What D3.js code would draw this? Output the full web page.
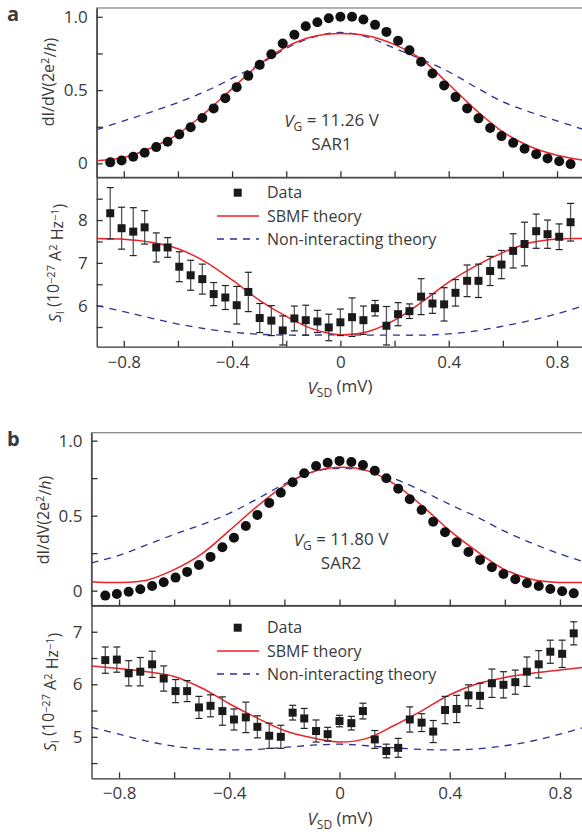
<!DOCTYPE html>
<html>
<head>
<meta charset="utf-8">
<script src="https://cdn.jsdelivr.net/npm/d3@7"></script>
<style>
	body { margin: 0; background: #fff; }
	#container { width: 582px; height: 835px; overflow: hidden; }
	text { font-family: "Open Sans", "Noto Sans", sans-serif; fill: #3a3a3a; }
</style>
</head>
<body>
<div id="container"></div>
<script>
// measured V_SD points (mV)
var vsd = [-0.85, -0.808, -0.765, -0.723, -0.68, -0.638, -0.595, -0.553, -0.51, -0.468, -0.425,
	-0.383, -0.34, -0.298, -0.255, -0.213, -0.17, -0.128, -0.085, -0.043, 0,
	0.043, 0.085, 0.128, 0.17, 0.213, 0.255, 0.298, 0.34, 0.383, 0.425,
	0.468, 0.51, 0.553, 0.595, 0.638, 0.68, 0.723, 0.765, 0.808, 0.85];

// theory curves sampled at these V_SD
var vth = [-0.9, -0.8, -0.7, -0.6, -0.5, -0.4, -0.3, -0.2, -0.1, 0, 0.1, 0.2, 0.3, 0.4, 0.5, 0.6, 0.7, 0.8, 0.9];

// SAR1
var condA = [0.007, 0.02, 0.045, 0.072, 0.111, 0.147, 0.198, 0.247, 0.309, 0.375, 0.445, 0.52, 0.597, 0.672, 0.745, 0.818, 0.877,
	0.936, 0.963, 0.99, 1.0,
	1.0, 0.982, 0.945, 0.897, 0.836, 0.772, 0.693, 0.613, 0.532, 0.452, 0.375, 0.307, 0.241, 0.186, 0.14, 0.1, 0.063, 0.034, 0.014, -0.005];
var condA_sbmf = [0.018, 0.04, 0.105, 0.2, 0.345, 0.51, 0.675, 0.795, 0.865, 0.886, 0.87, 0.81, 0.71, 0.54, 0.365, 0.215, 0.115, 0.055, 0.02];
var condA_free = [0.23, 0.29, 0.35, 0.415, 0.49, 0.58, 0.675, 0.785, 0.862, 0.893, 0.862, 0.785, 0.71, 0.625, 0.52, 0.42, 0.35, 0.29, 0.23];
var noiseA = [8.16, 7.81, 7.73, 7.83, 7.36, 7.36, 6.91, 6.71, 6.62, 6.27, 6.19, 6.01, 6.32, 5.71, 5.65, 5.42, 5.70,
	5.66, 5.63, 5.49, 5.61,
	5.73, 5.66, 5.94, 5.53, 5.80, 5.87, 6.21, 6.05, 6.03, 6.30, 6.58, 6.58, 6.81, 6.96, 7.28, 7.44, 7.74, 7.67, 7.61, 7.95];
var errA = [0.6, 0.49, 0.56, 0.39, 0.34, 0.23, 0.35, 0.35, 0.35, 0.27, 0.28, 0.44, 0.46, 0.34, 0.35, 0.34, 0.29,
	0.35, 0.26, 0.31, 0.31,
	0.45, 0.33, 0.18, 0.45, 0.27, 0.17, 0.42, 0.23, 0.39, 0.31, 0.37, 0.39, 0.34, 0.33, 0.4, 0.51, 0.4, 0.33, 0.3, 0.44];
var noiseA_sbmf = [7.57, 7.55, 7.48, 7.33, 7.03, 6.6, 6.13, 5.75, 5.45, 5.32, 5.39, 5.66, 6.08, 6.55, 6.93, 7.24, 7.47, 7.56, 7.57];
var noiseA_free = [6.0, 5.86, 5.71, 5.57, 5.46, 5.38, 5.33, 5.31, 5.31, 5.32, 5.31, 5.31, 5.31, 5.34, 5.41, 5.52, 5.65, 5.81, 6.0];

// SAR2
var condB = [-0.033, -0.022, -0.007, 0.009, 0.031, 0.056, 0.087, 0.125, 0.171, 0.225, 0.289, 0.353, 0.431, 0.505, 0.585, 0.653, 0.723,
	0.783, 0.831, 0.853, 0.865,
	0.858, 0.838, 0.8, 0.749, 0.68, 0.609, 0.538, 0.46, 0.389, 0.322, 0.258, 0.205, 0.156, 0.111, 0.076, 0.049, 0.031, 0.011, -0.004, -0.018];
var condB_sbmf = [0.06, 0.054, 0.07, 0.14, 0.245, 0.4, 0.56, 0.7, 0.79, 0.822, 0.8, 0.71, 0.565, 0.4, 0.26, 0.14, 0.075, 0.055, 0.056];
var condB_free = [0.185, 0.235, 0.305, 0.375, 0.44, 0.515, 0.61, 0.71, 0.79, 0.816, 0.8, 0.745, 0.665, 0.575, 0.49, 0.395, 0.315, 0.245, 0.185];
var noiseB = [6.46, 6.47, 6.21, 6.24, 6.38, 6.11, 5.87, 5.87, 5.56, 5.59, 5.49, 5.33, 5.37, 5.19, 5.02, 5.0, 5.46,
	5.35, 5.11, 5.05, 5.30,
	5.26, 5.49, 4.95, 4.73, 4.79, 5.33, 5.27, 5.1, 5.51, 5.53, 5.79, 5.78, 6.02, 5.99, 6.04, 6.24, 6.38, 6.62, 6.58, 6.97];
var errB = [0.25, 0.24, 0.24, 0.27, 0.25, 0.24, 0.22, 0.2, 0.21, 0.21, 0.27, 0.2, 0.29, 0.21, 0.24, 0.22, 0.14,
	0.19, 0.21, 0.13, 0.11,
	0.13, 0.15, 0.17, 0.13, 0.18, 0.24, 0.17, 0.21, 0.26, 0.26, 0.2, 0.24, 0.27, 0.25, 0.23, 0.28, 0.26, 0.22, 0.26, 0.22];
var noiseB_sbmf = [6.35, 6.3, 6.24, 6.15, 5.93, 5.63, 5.36, 5.12, 4.98, 4.9, 4.97, 5.22, 5.5, 5.8, 6.01, 6.13, 6.21, 6.27, 6.33];
var noiseB_free = [5.18, 5.05, 4.92, 4.82, 4.77, 4.75, 4.76, 4.8, 4.84, 4.86, 4.83, 4.79, 4.76, 4.75, 4.77, 4.83, 4.92, 5.05, 5.2];

var xTicks = [-0.8, -0.6, -0.4, -0.2, 0, 0.2, 0.4, 0.6, 0.8];
var xLabels = [-0.8, -0.4, 0, 0.4, 0.8];
var legendNames = ['Data', 'SBMF theory', 'Non-interacting theory'];

var red = '#ec2227', blue = '#2e3192', ink = '#333';

var width = 582, height = 835;

var svg = d3.select('#container').append('svg')
	.attr('width', width)
	.attr('height', height);

var fmt = d3.format('.1f');

draw({
	label: 'a', top: 8, mid: 177.3, bottom: 346.7, left: 96.7, right: 584.1,
	condDomain: [-0.095, 1.06], noiseDomain: [5.04, 9.0],
	noiseTicks: [5.5, 6, 6.5, 7, 7.5, 8, 8.5], noiseLabels: [6, 7, 8],
	cond: condA, condS: condA_sbmf, condF: condA_free,
	noise: noiseA, err: errA, noiseS: noiseA_sbmf, noiseF: noiseA_free,
	vg: '11.26', sar: 'SAR1', annX: 331.5, annY: 121,
	legY: 192.7, condTitleY: 82, noiseTitleY: 263, condTitleX: 48, noiseTitleX: 55
});

draw({
	label: 'b', top: 432.7, mid: 605.5, bottom: 778.3, left: 91.5, right: 587.5,
	condDomain: [-0.099, 1.053], noiseDomain: [4.21, 7.5],
	noiseTicks: [4.5, 5, 5.5, 6, 6.5, 7], noiseLabels: [5, 6, 7],
	cond: condB, condS: condB_sbmf, condF: condB_free,
	noise: noiseB, err: errB, noiseS: noiseB_sbmf, noiseF: noiseB_free,
	vg: '11.80', sar: 'SAR2', annX: 341, annY: 540,
	legY: 627.7, condTitleY: 520, noiseTitleY: 692, condTitleX: 43, noiseTitleX: 50
});

function draw(p) {

	var x = d3.scaleLinear().domain([-0.9, 0.9]).range([p.left, p.right]);
	var y1 = d3.scaleLinear().domain(p.condDomain).range([p.mid, p.top]);
	var y2 = d3.scaleLinear().domain(p.noiseDomain).range([p.bottom, p.mid]);

	var g = svg.append('g');

	// frame of the upper panel
	g.append('rect')
		.attr('x', p.left).attr('y', p.top)
		.attr('width', p.right - p.left).attr('height', p.mid - p.top)
		.attr('fill', 'none').attr('stroke', '#8a8a8a').attr('stroke-width', 1.3);

	// upper panel axes
	var xAxisTop = d3.axisBottom(x).tickValues(xTicks).tickSizeInner(-6).tickSizeOuter(0).tickFormat('');
	g.append('g').attr('class', 'axis')
		.attr('transform', 'translate(0,' + p.mid + ')')
		.call(xAxisTop);

	var yAxis1 = d3.axisLeft(y1).tickValues([0, 0.25, 0.5, 0.75, 1]).tickSizeInner(-6).tickSizeOuter(0).tickPadding(9)
		.tickFormat(function(d) { return d === 0 ? '0' : (d === 0.5 || d === 1) ? fmt(d) : ''; });
	g.append('g').attr('class', 'axis')
		.attr('transform', 'translate(' + p.left + ',0)')
		.call(yAxis1);

	// lower panel axes
	var xAxisBot = d3.axisBottom(x).tickValues(xTicks).tickSizeInner(-6).tickSizeOuter(0).tickPadding(9)
		.tickFormat(function(d) {
			if (xLabels.indexOf(d) < 0) return '';
			return d === 0 ? '0' : fmt(d);
		});
	g.append('g').attr('class', 'axis')
		.attr('transform', 'translate(0,' + p.bottom + ')')
		.call(xAxisBot);

	var yAxis2 = d3.axisLeft(y2).tickValues(p.noiseTicks).tickSizeInner(-6).tickSizeOuter(0).tickPadding(9)
		.tickFormat(function(d) { return p.noiseLabels.indexOf(d) < 0 ? '' : d; });
	g.append('g').attr('class', 'axis')
		.attr('transform', 'translate(' + p.left + ',0)')
		.call(yAxis2);

	g.selectAll('.axis path, .axis line').attr('stroke', ink).attr('stroke-width', 1.3);
	g.selectAll('.axis text').style('font-size', '17px').attr('fill', '#3a3a3a')
		.style('font-family', '"Open Sans", "Noto Sans", sans-serif');

	// theory curves
	var th = vth.map(function(v, i) { return i; });
	var line1 = d3.line().curve(d3.curveCatmullRom)
		.x(function(i) { return x(vth[i]); });

	g.append('path').datum(th)
		.attr('d', line1.y(function(i) { return y1(p.condF[i]); }))
		.attr('fill', 'none').attr('stroke', blue).attr('stroke-width', 1.3).attr('stroke-dasharray', '7,6');
	g.append('path').datum(th)
		.attr('d', line1.y(function(i) { return y1(p.condS[i]); }))
		.attr('fill', 'none').attr('stroke', red).attr('stroke-width', 1.5);

	g.append('path').datum(th)
		.attr('d', line1.y(function(i) { return y2(p.noiseF[i]); }))
		.attr('fill', 'none').attr('stroke', blue).attr('stroke-width', 1.3).attr('stroke-dasharray', '7,6');
	g.append('path').datum(th)
		.attr('d', line1.y(function(i) { return y2(p.noiseS[i]); }))
		.attr('fill', 'none').attr('stroke', red).attr('stroke-width', 1.5);

	// conductance dots
	g.selectAll('.dot').data(p.cond).enter().append('circle')
		.attr('cx', function(d, i) { return x(vsd[i]); })
		.attr('cy', function(d) { return y1(d); })
		.attr('r', 5)
		.style('fill', '#111');

	// noise error bars and squares
	var eb = g.selectAll('.eb').data(p.noise).enter().append('g');
	eb.append('line')
		.attr('x1', function(d, i) { return x(vsd[i]); })
		.attr('x2', function(d, i) { return x(vsd[i]); })
		.attr('y1', function(d, i) { return y2(d - p.err[i]); })
		.attr('y2', function(d, i) { return y2(d + p.err[i]); })
		.attr('stroke', '#555').attr('stroke-width', 1.3);
	eb.append('line')
		.attr('x1', function(d, i) { return x(vsd[i]) - 3.5; })
		.attr('x2', function(d, i) { return x(vsd[i]) + 3.5; })
		.attr('y1', function(d, i) { return y2(d + p.err[i]); })
		.attr('y2', function(d, i) { return y2(d + p.err[i]); })
		.attr('stroke', '#222').attr('stroke-width', 1.2);
	eb.append('line')
		.attr('x1', function(d, i) { return x(vsd[i]) - 3.5; })
		.attr('x2', function(d, i) { return x(vsd[i]) + 3.5; })
		.attr('y1', function(d, i) { return y2(d - p.err[i]); })
		.attr('y2', function(d, i) { return y2(d - p.err[i]); })
		.attr('stroke', '#222').attr('stroke-width', 1.2);
	eb.append('rect')
		.attr('x', function(d, i) { return x(vsd[i]) - 4; })
		.attr('y', function(d) { return y2(d) - 4; })
		.attr('width', 8).attr('height', 8)
		.style('fill', '#1a1a1a');

	// legend
	var lg = g.append('g');
	lg.append('rect').attr('x', 233.7).attr('y', p.legY - 4).attr('width', 8).attr('height', 8).style('fill', '#1a1a1a');
	lg.append('line').attr('x1', 217).attr('x2', 259).attr('y1', p.legY + 23.3).attr('y2', p.legY + 23.3)
		.attr('stroke', red).attr('stroke-width', 1.5);
	lg.append('line').attr('x1', 217).attr('x2', 259).attr('y1', p.legY + 46.3).attr('y2', p.legY + 46.3)
		.attr('stroke', blue).attr('stroke-width', 1.3).attr('stroke-dasharray', '7,6');
	lg.selectAll('.lt').data(legendNames).enter().append('text')
		.attr('x', 267)
		.attr('y', function(d, i) { return p.legY + i * 23.3; })
		.attr('dy', '0.36em')
		.style('font-size', '16px')
		.text(function(d) { return d; });

	// annotation
	var ann = g.append('text').attr('x', p.annX).attr('y', p.annY).attr('dy', '0.36em')
		.attr('text-anchor', 'middle').style('font-size', '17px');
	ann.append('tspan').style('font-style', 'italic').text('V');
	ann.append('tspan').attr('dy', '0.3em').style('font-size', '12px').text('G');
	ann.append('tspan').attr('dy', '-0.25em').text(' = ' + p.vg + ' V');
	g.append('text').attr('x', p.annX).attr('y', p.annY + 23).attr('dy', '0.36em')
		.attr('text-anchor', 'middle').style('font-size', '17px').text(p.sar);

	// axis titles
	var t1 = g.append('text')
		.attr('transform', 'translate(' + p.condTitleX + ',' + p.condTitleY + ') rotate(-90)')
		.attr('text-anchor', 'middle').attr('dy', '0.36em').style('font-size', '16px');
	t1.append('tspan').text('dI/dV(2e');
	t1.append('tspan').attr('dy', '-0.4em').style('font-size', '11px').text('2');
	t1.append('tspan').attr('dy', '0.4em').text('/');
	t1.append('tspan').style('font-style', 'italic').text('h');
	t1.append('tspan').text(')');

	var t2 = g.append('text')
		.attr('transform', 'translate(' + p.noiseTitleX + ',' + p.noiseTitleY + ') rotate(-90)')
		.attr('text-anchor', 'middle').attr('dy', '0.36em').style('font-size', '16px');
	t2.append('tspan').style('font-style', 'italic').text('S');
	t2.append('tspan').attr('dy', '0.3em').style('font-size', '11px').text('I');
	t2.append('tspan').attr('dy', '-0.3em').text(' (10');
	t2.append('tspan').attr('dy', '-0.4em').style('font-size', '11px').text('\u221227');
	t2.append('tspan').attr('dy', '0.4em').text(' A');
	t2.append('tspan').attr('dy', '-0.4em').style('font-size', '11px').text('2');
	t2.append('tspan').attr('dy', '0.4em').text(' Hz');
	t2.append('tspan').attr('dy', '-0.4em').style('font-size', '11px').text('\u22121');
	t2.append('tspan').attr('dy', '0.4em').text(')');

	var t3 = g.append('text').attr('x', 340).attr('y', p.bottom + 41).attr('dy', '0.36em')
		.attr('text-anchor', 'middle').style('font-size', '17px');
	t3.append('tspan').style('font-style', 'italic').text('V');
	t3.append('tspan').attr('dy', '0.3em').style('font-size', '12px').text('SD');
	t3.append('tspan').attr('dy', '-0.3em').text(' (mV)');

	// panel letter
	g.append('text').attr('x', 7).attr('y', p.top + 13)
		.style('font-size', '20px').style('font-weight', 'bold').attr('fill', '#111').text(p.label);
}
</script>
</body>
</html>
